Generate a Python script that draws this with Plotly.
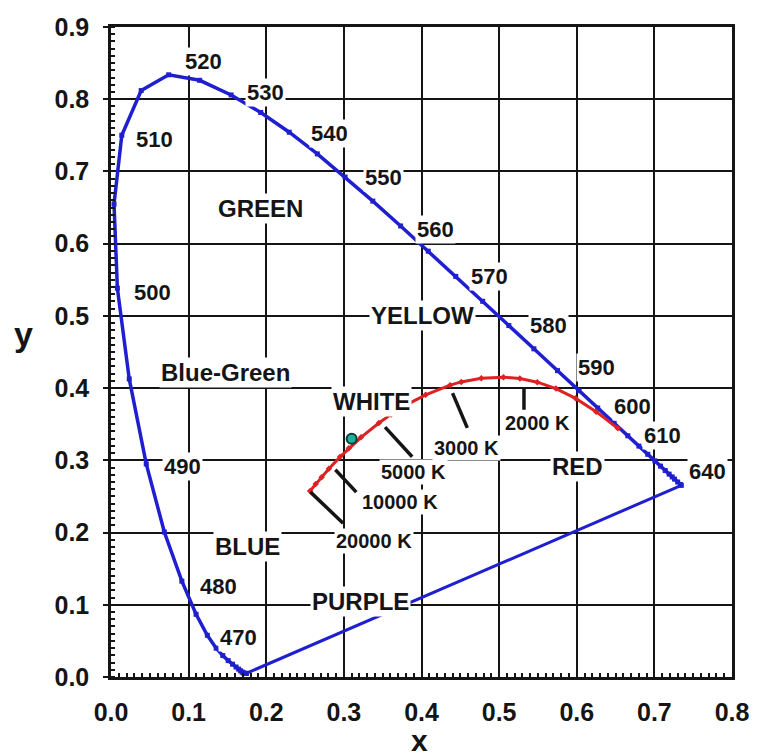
import plotly.graph_objects as go

# ---- CIE 1931 spectral locus: chromaticity (x, y) per wavelength (nm) ----
wavelength_nm = [380, 385, 390, 395, 400, 405, 410, 415, 420, 425, 430, 435,
                 440, 445, 450, 455, 460, 465, 470, 475, 480, 485, 490, 495,
                 500, 505, 510, 515, 520, 525, 530, 535, 540, 545, 550, 555,
                 560, 565, 570, 575, 580, 585, 590, 595, 600, 605, 610, 615,
                 620, 625, 630, 635, 640, 645, 650, 660, 680, 700]
locus_x = [0.1741, 0.1740, 0.1738, 0.1736, 0.1733, 0.1730, 0.1726, 0.1721,
           0.1714, 0.1703, 0.1689, 0.1669, 0.1644, 0.1611, 0.1566, 0.1510,
           0.1440, 0.1355, 0.1241, 0.1096, 0.0913, 0.0687, 0.0454, 0.0235,
           0.0082, 0.0039, 0.0139, 0.0389, 0.0743, 0.1142, 0.1547, 0.1929,
           0.2296, 0.2658, 0.3016, 0.3373, 0.3731, 0.4087, 0.4441, 0.4788,
           0.5125, 0.5448, 0.5752, 0.6029, 0.6270, 0.6482, 0.6658, 0.6801,
           0.6915, 0.7006, 0.7079, 0.7140, 0.7190, 0.7230, 0.7260, 0.7300,
           0.7334, 0.7347]
locus_y = [0.0050, 0.0050, 0.0049, 0.0049, 0.0048, 0.0048, 0.0048, 0.0048,
           0.0051, 0.0058, 0.0069, 0.0086, 0.0109, 0.0138, 0.0177, 0.0227,
           0.0297, 0.0399, 0.0578, 0.0868, 0.1327, 0.2007, 0.2950, 0.4127,
           0.5384, 0.6548, 0.7502, 0.8120, 0.8338, 0.8262, 0.8059, 0.7816,
           0.7543, 0.7243, 0.6923, 0.6589, 0.6245, 0.5896, 0.5547, 0.5202,
           0.4866, 0.4544, 0.4242, 0.3965, 0.3725, 0.3514, 0.3340, 0.3197,
           0.3083, 0.2993, 0.2920, 0.2859, 0.2809, 0.2770, 0.2740, 0.2700,
           0.2666, 0.2653]

# ---- Planckian (black-body) locus per colour temperature (K) ----
cct_k = [1000, 1200, 1400, 1600, 1800, 2000, 2200, 2500, 2800, 3000, 3500,
         4000, 4500, 5000, 6000, 7000, 8000, 10000, 12000, 15000, 20000]
planck_x = [0.6528, 0.6250, 0.5985, 0.5732, 0.5492, 0.5267, 0.5056, 0.4770,
            0.4512, 0.4369, 0.4053, 0.3805, 0.3608, 0.3451, 0.3221, 0.3064,
            0.2952, 0.2807, 0.2713, 0.2637, 0.2565]
planck_y = [0.3444, 0.3674, 0.3858, 0.3993, 0.4082, 0.4133, 0.4152, 0.4137,
            0.4086, 0.4041, 0.3907, 0.3768, 0.3636, 0.3516, 0.3318, 0.3166,
            0.3048, 0.2884, 0.2766, 0.2674, 0.2577]

# ---- Isotherm leader segments for the labelled temperatures ----
iso_names = ["2000 K", "3000 K", "5000 K", "10000 K", "20000 K"]
iso_x0 = [0.532, 0.440, 0.353, 0.289, 0.257]
iso_y0 = [0.400, 0.393, 0.346, 0.287, 0.256]
iso_x1 = [0.532, 0.459, 0.388, 0.316, 0.299]
iso_y1 = [0.370, 0.345, 0.305, 0.256, 0.213]

# Reference white point
white_x = [0.310]
white_y = [0.330]

# ---- Text labels ----
wl_marks = ["470", "480", "490", "500", "510", "520", "530", "540", "550",
            "560", "570", "580", "590", "600", "610", "640"]
region_names = ["GREEN", "Blue-Green", "YELLOW", "WHITE", "RED", "BLUE",
                "PURPLE"]

# label placement (data coordinates)
wl_label_pos = [(0.164, 0.055), (0.139, 0.126), (0.092, 0.291),
                (0.054, 0.532), (0.056, 0.744), (0.119, 0.852),
                (0.199, 0.809), (0.282, 0.753), (0.351, 0.691),
                (0.418, 0.620), (0.488, 0.555), (0.563, 0.487),
                (0.626, 0.428), (0.672, 0.374), (0.711, 0.334),
                (0.768, 0.284)]
region_label_pos = [(0.192, 0.649), (0.147, 0.422), (0.401, 0.501),
                    (0.335, 0.382), (0.601, 0.291), (0.176, 0.181),
                    (0.322, 0.105)]
iso_label_pos = [(0.550, 0.352), (0.458, 0.317), (0.390, 0.284),
                 (0.372, 0.242), (0.339, 0.188)]

BLUE = "#1f1fcf"
RED = "#dc2222"
INK = "#151515"
FONT = "Liberation Sans"

fig = go.Figure()

# purple line closing the locus (700 nm back to 380 nm)
fig.add_trace(go.Scatter(
    x=[locus_x[-1], locus_x[0]], y=[locus_y[-1], locus_y[0]],
    mode="lines", line=dict(color=BLUE, width=3), hoverinfo="skip"))

# spectral locus
fig.add_trace(go.Scatter(
    x=locus_x, y=locus_y, mode="lines+markers",
    line=dict(color=BLUE, width=3.5),
    marker=dict(color=BLUE, size=5, symbol="square"),
    text=[f"{w} nm" for w in wavelength_nm], hoverinfo="text"))

# Planckian locus
fig.add_trace(go.Scatter(
    x=planck_x, y=planck_y, mode="lines+markers",
    line=dict(color=RED, width=3),
    marker=dict(color=RED, size=5, symbol="diamond"),
    text=[f"{t} K" for t in cct_k], hoverinfo="text"))

# isotherm leaders
for name, xa, ya, xb, yb in zip(iso_names, iso_x0, iso_y0, iso_x1, iso_y1):
    fig.add_trace(go.Scatter(
        x=[xa, xb], y=[ya, yb], mode="lines",
        line=dict(color=INK, width=3.5), hoverinfo="skip", name=name))

# white point
fig.add_trace(go.Scatter(
    x=white_x, y=white_y, mode="markers",
    marker=dict(color="#1bb39c", size=10,
                line=dict(color="#0b3d36", width=2)),
    hoverinfo="skip"))

annotations = []


def label(text, pos, size):
    annotations.append(dict(
        x=pos[0], y=pos[1], xref="x", yref="y", text=text, showarrow=False,
        font=dict(family=FONT, size=size, color=INK, weight="bold"),
        bgcolor="white", borderpad=1, xanchor="center", yanchor="middle"))


for t, p in zip(wl_marks, wl_label_pos):
    label(t, p, 22)
for t, p in zip(region_names, region_label_pos):
    label(t, p, 24)
for t, p in zip(iso_names, iso_label_pos):
    label(t, p, 20)

# axis titles
annotations.append(dict(
    x=-0.141, y=0.527, xref="paper", yref="paper", text="y",
    showarrow=False, xanchor="center", yanchor="middle",
    font=dict(family=FONT, size=34, color=INK, weight="bold")))
annotations.append(dict(
    x=0.497, y=-0.098, xref="paper", yref="paper", text="x",
    showarrow=False, xanchor="center", yanchor="middle",
    font=dict(family=FONT, size=30, color=INK, weight="bold")))

axis_common = dict(
    showgrid=True, gridcolor=INK, gridwidth=2.2,
    showline=True, linecolor=INK, linewidth=2.5, mirror=True,
    zeroline=False, tickformat=".1f",
    tickfont=dict(family=FONT, size=25, color=INK, weight="bold"),
    minor=dict(ticks="inside", ticklen=4, tickwidth=2, tickcolor=INK,
               dtick=0.01, showgrid=False),
)

fig.update_xaxes(range=[0, 0.8], dtick=0.1, ticks="", ticklabelstandoff=11,
                 **axis_common)
fig.update_yaxes(range=[0, 0.9], dtick=0.1, ticks="outside", ticklen=5,
                 tickwidth=2, tickcolor=INK, ticklabelstandoff=9,
                 **axis_common)

fig.update_layout(
    width=761, height=756,
    margin=dict(l=111, r=24, t=27, b=79),
    plot_bgcolor="white", paper_bgcolor="white",
    showlegend=False,
    annotations=annotations,
)

fig.write_html("out.html")
